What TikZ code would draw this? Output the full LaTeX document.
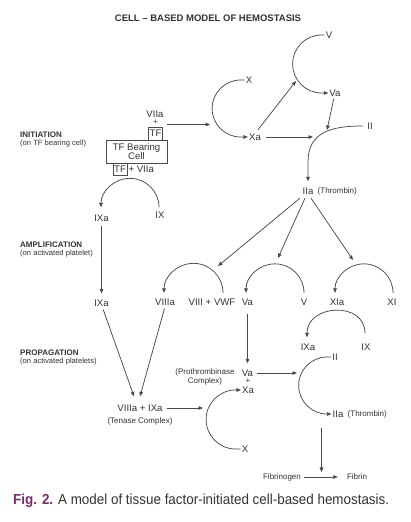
\documentclass[tikz,border=0pt]{standalone}
\usepackage{fontspec}
\setmainfont{Liberation Sans}
\usetikzlibrary{arrows.meta}
\definecolor{linec}{HTML}{4A4A4A}
\definecolor{txtc}{HTML}{333333}
\definecolor{figc}{HTML}{7B2A6B}
\begin{document}
\begin{tikzpicture}[x=1pt,y=1pt,
  lab/.style={inner sep=1pt, text=txtc, font=\fontsize{9.6}{11}\selectfont, text height=6.9pt, text depth=0pt},
  sml/.style={inner sep=1pt, text=txtc, font=\fontsize{8}{9}\selectfont},
  head/.style={anchor=west, inner sep=0pt, text=txtc, font=\fontsize{8}{9}\selectfont\bfseries},
  subh/.style={anchor=west, inner sep=0pt, text=txtc, font=\fontsize{7.6}{9}\selectfont},
  boxed/.style={draw=linec, line width=0.7pt},
  arr/.style={draw=linec, line width=0.75pt, -{Triangle[length=4.5pt,width=3.6pt]}},
]
\fill[white] (0,0) rectangle (410,522);
\useasboundingbox (0,0) rectangle (410,522);

% title
\node[text=txtc, font=\fontsize{9.5}{11}\selectfont\bfseries] (title) at (208,504) {CELL – BASED MODEL OF HEMOSTASIS};

% phase headings
\node[head] (hInit) at (20,387) {INITIATION};
\node[subh] (sInit) at (20,378.5) {(on TF bearing cell)};
\node[head] (hAmp) at (20,277) {AMPLIFICATION};
\node[subh] (sAmp) at (20,268.5) {(on activated platelet)};
\node[head] (hProp) at (20,169) {PROPAGATION};
\node[subh] (sProp) at (20,160.5) {(on activated platelets)};

% ---------- initiation ----------
\node[lab] (VIIa1) at (155,408) {VIIa};
\node[sml] (plus1) at (155.5,399.5) {+};
\node[lab, boxed, minimum width=14pt, minimum height=13pt] (TF1) at (155.5,388.5) {TF};
\node[boxed, text=txtc, font=\fontsize{9.6}{9}\selectfont, align=center, minimum width=61pt, minimum height=23pt, inner sep=1pt] (cell) at (136.5,370.5) {TF Bearing\\Cell};
\node[lab, boxed, minimum width=14pt, minimum height=12pt] (TF2) at (120,353) {TF};
\node[lab, anchor=west] (pv) at (TF2.east) {+ VIIa};

\node[lab] (IX1) at (160,307) {IX};
\node[lab] (IXa1) at (101.5,304) {IXa};

\coordinate (a1s) at (167,397.5);
\coordinate (a1e) at (210,397.5);
\draw[arr] (a1s) -- (a1e);

\node[lab] (X1) at (249,442) {X};
\node[lab] (Xa1) at (255,385) {Xa};
\node[lab] (V1) at (329,487) {V};
\node[lab] (Va1) at (335,429) {Va};
\node[lab] (II1) at (370,396) {II};
\node[lab] (IIa1) at (308,331) {IIa};
\node[sml, anchor=west] (thr1) at ([xshift=2pt]IIa1.east) {(Thrombin)};

% X -> Xa
\draw[arr] (X1.west) -- ++(-4,0) arc[start angle=90,end angle=270,radius=28.5] -- (Xa1.west);
% V -> Va
\draw[arr] (V1.west) -- ++(-3,0) arc[start angle=90,end angle=270,radius=29] -- (Va1.west);
% Xa -> V arc
\coordinate (vtip2) at (296,441);
\draw[arr, shorten <=3pt] ([xshift=1pt]Xa1.north) -- (vtip2);
% II -> IIa
\draw[arr] ([xshift=-3pt]II1.west) .. controls +(-32,0) and +(0,30) .. (308,360) -- ([yshift=5pt]IIa1.north);
% Va -> II curve
\coordinate (vtip) at (327,392);
\draw[arr, shorten <=1pt] ([xshift=-1pt]Va1.south) -- (vtip);
% Xa -> II curve
\coordinate (xtip) at (313,385);
\draw[arr, shorten <=4pt] (Xa1.east) -- (xtip);

% IX -> IXa
\draw[arr] ([shift={(-1,3)}]IX1.north) arc[start angle=0,end angle=180,radius=29];

% ---------- amplification ----------
\node[lab] (IXa2) at (101.5,219) {IXa};
\draw[arr, shorten <=3pt, shorten >=5pt] (IXa1.south) -- (IXa2.north);

\node[lab] (VIIIa) at (165,220) {VIIIa};
\node[lab] (vwf) at (212,220) {VIII + VWF};
\node[lab] (Va2) at (247.5,220) {Va};
\node[lab] (V2) at (304,220) {V};
\node[lab] (XIa) at (337,220) {XIa};
\node[lab] (XI) at (392,220) {XI};
\node[lab] (IXa3) at (308,175) {IXa};
\node[lab] (IX3) at (366,175) {IX};

\draw[arr] ([shift={(11,4.5)}]vwf.north) arc[start angle=0,end angle=180,radius=29.5];
\draw[arr] ([shift={(0,4.5)}]V2.north) arc[start angle=0,end angle=180,radius=29];
\draw[arr] ([shift={(1,4.5)}]XI.north) arc[start angle=0,end angle=180,radius=29];
\draw[arr] ([shift={(-1,9)}]IX3.north) to[out=90,in=90,looseness=1.45] ([shift={(-1,5)}]IXa3.north);

\coordinate (t1) at (218,256);
\coordinate (t2) at (278,264);
\coordinate (t3) at (353,262);
\draw[arr] ([shift={(-8,-2.5)}]IIa1.south) -- (t1);
\draw[arr] ([shift={(-3,-2.5)}]IIa1.south) -- (t2);
\draw[arr] ([shift={(3,-2.5)}]IIa1.south) -- (t3);

% ---------- propagation ----------
\node[lab] (tenase) at (140,114) {VIIIa + IXa};
\node[sml] (tenlab) at (140,101) {(Tenase Complex)};
\draw[arr, shorten <=2pt] ([xshift=1pt]IXa2.south) -- ([shift={(-6,7)}]tenase.north);
\draw[arr, shorten <=2pt] (VIIIa.south) -- ([shift={(0,7)}]tenase.north);

\coordinate (tene) at (203,114);
\draw[arr, shorten <=3pt] (tenase.east) -- (tene);

\node[sml, align=center] (prolab) at (205,145) {(Prothrombinase\\Complex)};
\node[lab] (Va3) at (247.5,149) {Va};
\node[sml] (plus3) at (248,141) {+};
\node[lab] (Xa3) at (248,132) {Xa};
\node[lab] (X3) at (245,73) {X};
\draw[arr, shorten <=7pt, shorten >=5pt] (Va2.south) -- (Va3.north);
\draw[arr] (X3.west) -- ++(-5,0) arc[start angle=270,end angle=90,radius=29.5] -- (Xa3.west);

\node[lab] (II3) at (335,165) {II};
\node[lab] (IIa3) at (338,108) {IIa};
\node[sml, anchor=west] (thr3) at ([xshift=2pt]IIa3.east) {(Thrombin)};
\coordinate (vae) at (297,149);
\draw[arr, shorten <=3pt] (Va3.east) -- (vae);
\draw[arr] (II3.west) -- ++(-4,0) arc[start angle=90,end angle=270,radius=28.5] -- (IIa3.west);

\node[sml] (fgen) at (282,45) {Fibrinogen};
\node[sml] (fin) at (357,45) {Fibrin};
\coordinate (fmid) at (321.5,45);
\draw[arr, shorten <=2pt, shorten >=8pt] (fgen.east) -- (fin.west);
\coordinate (dstart) at (321.5,94);
\draw[arr] (dstart) -- ([yshift=5pt]fmid);

% caption
\node[anchor=west, inner sep=0pt, text=txtc, font=\fontsize{14.5}{16}\selectfont] (cap) at (13,21) {\scalebox{0.925}[1]{\textcolor{figc}{\textbf{Fig. 2.}} A model of tissue factor-initiated cell-based hemostasis.}};
\end{tikzpicture}
\end{document}
